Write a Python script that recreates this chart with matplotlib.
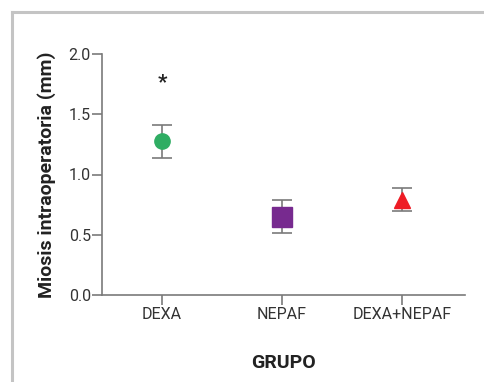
import matplotlib
matplotlib.use("Agg")
import matplotlib.pyplot as plt
from matplotlib.lines import Line2D

plt.rcParams['font.family'] = ['Roboto', 'DejaVu Sans']

# data
grupos = ["DEXA", "NEPAF", "DEXA+NEPAF"]
medias = [1.275, 0.647, 0.785]
err_sup = [1.41, 0.79, 0.885]
err_inf = [1.134, 0.515, 0.70]
marcadores = ["o", "s", "^"]
colores = ["#2fad63", "#772a8f", "#ee1c25"]
tamanos = [11, 15, 12]
y_ticks = [0.0, 0.5, 1.0, 1.5, 2.0]
asterisco_y = 1.76

fig = plt.figure(figsize=(4.84, 3.82), dpi=100)
ax = fig.add_axes([102 / 484, 1 - 295 / 382, (465 - 102) / 484, (295 - 54) / 382])

# grey frame (top and left edges only visible)
fig.add_artist(Line2D([12 / 484, 12 / 484], [0, 1 - 12 / 382], transform=fig.transFigure,
                      color="#c4c4c4", lw=2.2))
fig.add_artist(Line2D([12 / 484, 1], [1 - 12 / 382, 1 - 12 / 382], transform=fig.transFigure,
                      color="#c4c4c4", lw=2.2))

for i in range(len(grupos)):
    yerr = [[medias[i] - err_inf[i]], [err_sup[i] - medias[i]]]
    ax.errorbar(i, medias[i], yerr=yerr, fmt="none", ecolor="#7a7a7a",
                elinewidth=1.2, capsize=7, capthick=1.2, zorder=2)
    ax.plot(i, medias[i], marker=marcadores[i], color=colores[i],
            markersize=tamanos[i], linestyle="none", zorder=3)

ax.text(0, asterisco_y, "*", ha="center", va="center", fontsize=15,
        fontweight="bold", color="#222222")

ax.set_xlim(-0.5, 2.525)
ax.set_ylim(0, 2.0)
ax.set_yticks(y_ticks)
ax.set_yticklabels([f"{v:.1f}" for v in y_ticks])
ax.set_xticks(range(len(grupos)))
ax.set_xticklabels(grupos)

for s in ["top", "right"]:
    ax.spines[s].set_visible(False)
for s in ["left", "bottom"]:
    ax.spines[s].set_color("#7a7a7a")
    ax.spines[s].set_linewidth(1.2)

ax.tick_params(axis="both", colors="#7a7a7a", length=7, width=1.2,
               labelsize=11.5, labelcolor="#333333")
ax.tick_params(axis="x", pad=1.5)
ax.tick_params(axis="y", pad=1)

ax.set_ylabel("Miosis intraoperatoria (mm)", fontsize=14, fontweight="bold",
              color="#222222", labelpad=9)
ax.set_xlabel("GRUPO", fontsize=14, fontweight="bold", color="#222222", labelpad=23)

fig.savefig("out.png", dpi=100)
